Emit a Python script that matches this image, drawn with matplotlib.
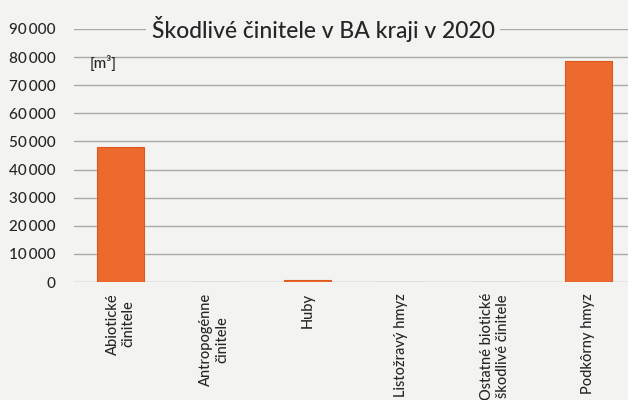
import matplotlib
matplotlib.use("Agg")
import matplotlib.pyplot as plt
from matplotlib.ticker import FuncFormatter

plt.rcParams['font.family'] = ['Lato', 'DejaVu Sans']

categories = [
    "Abiotické\nčinitele",
    "Antropogénne\nčinitele",
    "Huby",
    "Listožravý hmyz",
    "Ostatné biotické\nškodlivé činitele",
    "Podkôrny hmyz",
]
volumes = [48000, 0, 700, 0, 0, 78500]
y_ticks = [0, 10000, 20000, 30000, 40000, 50000, 60000, 70000, 80000, 90000]

title = "Škodlivé činitele v BA kraji v 2020"
unit = "[m³]"

bg = "#f3f3f1"
text_col = "#262626"
grid_col = "#a8aca9"
bar_col = "#ec6a2e"

fig = plt.figure(figsize=(6.28, 4.0), dpi=100, facecolor=bg)
ax = fig.add_axes([74 / 628, (400 - 282) / 400, 561 / 628, (282 - 29) / 400])
ax.set_facecolor(bg)

x = range(len(categories))
ax.bar(x, volumes, width=0.5, color=bar_col, edgecolor="#e0561f", linewidth=0.8, zorder=3)

ax.set_ylim(0, 90000)
ax.set_xlim(-0.5, len(categories) - 0.5)
ax.set_yticks(y_ticks)
ax.yaxis.set_major_formatter(FuncFormatter(lambda v, p: f"{int(v):,}".replace(",", "\u2009")))
ax.grid(axis="y", color=grid_col, linewidth=1.0, zorder=0)
ax.tick_params(axis="y", length=0, pad=13, labelsize=11, labelcolor=text_col)
ax.tick_params(axis="x", length=0, pad=8)
for s in ax.spines.values():
    s.set_visible(False)
for lbl in ax.get_yticklabels():
    lbl.set_fontweight(500)

ax.set_xticks(list(x))
ax.set_xticklabels(categories, rotation=90, ha="center", va="top",
                   multialignment="center", fontsize=10.5, color=text_col,
                   fontweight=500)

ax.text(0.444, 90000, title, transform=ax.get_yaxis_transform(), ha="center", va="center",
        fontsize=16.5, color=text_col, zorder=5, fontweight=500,
        bbox=dict(boxstyle="square,pad=0.25", fc=bg, ec="none"))
ax.text(-0.33, 80800, unit, ha="left", va="top", fontsize=11, color=text_col,
        zorder=5, fontweight=500)

fig.savefig("out.png", dpi=100, facecolor=bg)
